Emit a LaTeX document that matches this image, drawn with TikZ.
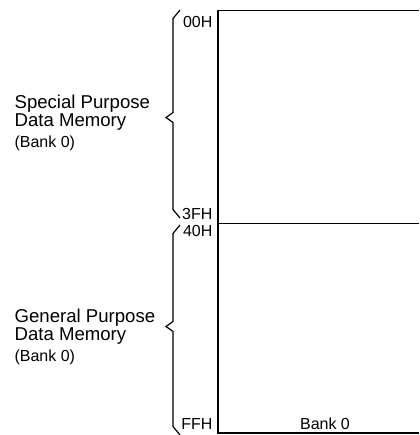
\documentclass[tikz,border=0pt]{standalone}
\usepackage{fontspec}
\setmainfont{Liberation Sans}
\usepackage{tikz}

\begin{document}
\begin{tikzpicture}[x=0.5pt,y=-0.5pt,line width=0.6pt,
    big/.style={inner sep=0pt,font=\fontsize{9.3}{9.3}\selectfont},
    small/.style={inner sep=0pt,font=\fontsize{8}{8}\selectfont}]
    \useasboundingbox (0,0) rectangle (419,435);
    % memory box (open on the right)
    \draw (419,10.5) -- (218,10.5) -- (218,433) -- (419,433);
    \draw (218,223.5) -- (419,223.5);
    % braces
    \foreach \t/\m/\b in {10/117.5/218, 225/326.5/435}
    {   \draw (180,\t) -- (173,\t+8.5) -- (173,\m-5) -- (166,\m)
              -- (173,\m+5) -- (173,\b-8.5) -- (180,\b);
    }
    % addresses
    \node [small,anchor=base east] (a00) at (213,27) {00H};
    \node [small,anchor=base east] (a3f) at (213,219.5) {3FH};
    \node [small,anchor=base east] (a40) at (213,236.5) {40H};
    \node [small,anchor=base east] (aff) at (213,429) {FFH};
    \node [small,anchor=base] (bank) at (325,429) {Bank 0};
    % region names
    \node [big,anchor=base west] (sp1) at (14,108) {Special Purpose};
    \node [big,anchor=base west] (sp2) at (14,126) {Data Memory};
    \node [small,anchor=base west] (sp3) at (14,147.5) {(Bank 0)};
    \node [big,anchor=base west] (gp1) at (14,322) {General Purpose};
    \node [big,anchor=base west] (gp2) at (14,340) {Data Memory};
    \node [small,anchor=base west] (gp3) at (14,361.5) {(Bank 0)};
\end{tikzpicture}
\end{document}
